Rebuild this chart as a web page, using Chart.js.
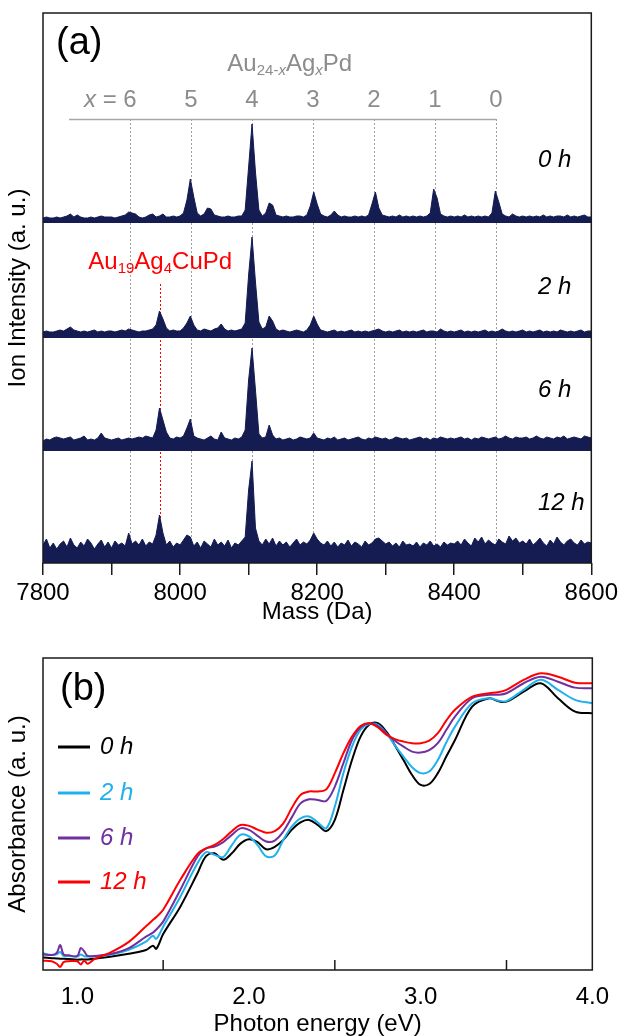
<!DOCTYPE html>
<html>
<head>
<meta charset="utf-8">
<script src="https://cdn.jsdelivr.net/npm/chart.js@4.4.0/dist/chart.umd.min.js"></script>
<style>
  body { margin: 0; background: #fff; }
  #wrap { position: relative; width: 622px; height: 1036px; }
  canvas { position: absolute; left: 0; }
  #massChart { top: 0; }
  #absChart { top: 640px; }
</style>
</head>
<body>
<div id="wrap">
  <canvas id="massChart" width="622" height="630"></canvas>
  <canvas id="absChart" width="622" height="396"></canvas>
</div>
<script>
// ===== (a) mass spectra, 5 Da steps from 7800 to 8600 =====
const massStart = 7800;
const massStep = 5;

const int0h = [
  4,5,4,4,5,4,5,6,8,5,7,5,4,4,5,4,5,6,5,5,
  5,4,5,6,7,10,9,8,5,4,5,7,8,5,6,8,5,5,6,5,
  6,9,22,43,25,9,6,8,14,13,7,6,5,5,6,5,5,6,6,12,
  55,98,50,12,6,9,19,17,7,6,5,6,5,5,6,6,5,7,16,30,
  18,8,6,5,7,11,7,5,6,5,5,6,5,6,5,7,18,30,14,7,
  6,5,6,5,7,5,6,5,6,5,6,5,6,9,33,24,8,6,5,6,
  5,6,5,7,5,6,5,6,5,6,5,9,31,20,8,6,5,8,6,5,
  6,5,6,5,6,5,7,5,6,5,6,6,5,7,5,6,5,6,7,5,
  5
];
const int2h = [
  5,6,5,5,6,7,6,8,10,7,6,5,6,5,6,7,5,6,5,6,
  6,5,6,7,6,8,7,6,5,6,6,7,8,12,26,18,9,6,7,6,
  6,9,14,21,12,7,6,8,7,6,8,9,13,8,6,7,6,7,8,14,
  62,100,55,15,8,10,21,16,8,6,7,6,5,6,7,6,5,7,12,21,
  13,7,6,5,6,7,5,6,5,6,7,5,6,5,6,5,6,7,8,6,
  5,6,5,6,7,5,6,5,6,5,6,7,5,6,6,5,8,6,5,6,
  5,6,7,5,6,5,6,5,6,7,5,6,5,6,8,6,5,6,5,6,
  7,5,6,5,6,7,5,6,5,6,5,7,6,5,6,5,6,7,5,6,
  6
];
const int6h = [
  9,11,10,12,13,12,11,12,13,10,11,12,14,10,11,10,12,17,12,11,
  10,11,12,10,11,12,11,12,13,12,14,13,12,20,42,30,18,12,11,13,
  12,14,22,31,14,12,11,10,12,14,11,10,18,12,11,10,12,11,13,20,
  70,102,60,16,12,13,25,15,11,12,10,11,12,10,11,13,12,11,12,17,
  12,11,10,12,11,13,10,11,12,10,11,12,13,11,10,12,11,13,12,11,
  12,10,11,13,12,11,12,10,11,12,13,11,12,10,12,11,13,12,11,12,
  11,12,13,11,12,10,12,11,13,12,11,12,13,11,12,14,12,11,13,12,
  12,13,11,12,14,12,11,13,12,11,13,12,14,11,12,13,12,11,14,13,
  12
];
const int12h = [
  18,24,15,20,14,19,22,16,25,18,15,21,17,24,20,14,19,23,16,21,
  15,22,18,20,17,30,19,22,18,24,17,21,19,28,48,30,18,22,16,20,
  18,23,28,26,17,21,15,22,19,16,24,18,21,17,23,15,20,18,22,26,
  73,102,35,22,18,24,19,25,17,22,18,21,16,20,24,18,21,19,23,30,
  24,20,18,22,17,21,16,20,18,23,17,21,19,16,22,18,20,24,25,22,
  19,21,17,20,16,22,18,19,17,21,16,20,18,22,17,19,16,21,18,20,
  19,22,18,24,20,17,25,21,26,19,23,20,18,24,21,19,27,22,25,20,
  22,19,24,18,21,25,20,17,23,19,26,21,18,22,24,20,18,23,19,21,
  20
];
const timeLabels = ['0 h', '2 h', '6 h', '12 h'];
const agMasses = [7927, 8016, 8105, 8194, 8283, 8372, 8461];
const agLabels = ['6', '5', '4', '3', '2', '1', '0'];
const cuMass = 7971;

// ===== (b) absorption spectra =====
const energy = [0.8,0.85,0.88,0.9,0.92,0.95, 1.0,1.02,1.04,1.06,1.1, 1.2,1.3,1.4,1.44,1.46,1.5,
  1.6,1.7,1.75,1.8,1.85,1.9,1.95, 2.0,2.05,2.1,2.15,2.2,2.25, 2.3,2.35,2.4,2.45,2.5,2.55,
  2.6,2.65,2.7,2.75,2.8,2.85, 2.9,2.95,3.0,3.05,3.1,3.15, 3.2,3.3,3.4,3.45,3.5, 3.6,3.7,3.8,3.9,4.0];
const abs0h = [0.040,0.038,0.037,0.036,0.036,0.035, 0.033,0.034,0.034,0.034,0.036, 0.043,0.052,0.064,0.078,0.068,0.115,
  0.203,0.310,0.365,0.374,0.353,0.374,0.405, 0.419,0.410,0.387,0.395,0.417,0.450, 0.473,0.481,0.465,0.445,0.481,0.577,
  0.673,0.748,0.786,0.791,0.764,0.720, 0.673,0.625,0.593,0.596,0.631,0.685, 0.737,0.844,0.871,0.862,0.860, 0.892,0.919,0.871,0.828,0.823];
const abs2h = [0.054,0.048,0.050,0.058,0.045,0.045, 0.043,0.050,0.044,0.043,0.044, 0.050,0.065,0.091,0.110,0.100,0.139,
  0.235,0.342,0.378,0.369,0.362,0.400,0.433, 0.428,0.400,0.364,0.367,0.417,0.460, 0.486,0.492,0.473,0.454,0.524,0.631,
  0.716,0.770,0.788,0.786,0.759,0.720, 0.684,0.650,0.631,0.636,0.673,0.730, 0.780,0.855,0.871,0.864,0.862, 0.898,0.930,0.898,0.866,0.855];
const abs6h = [0.050,0.048,0.055,0.080,0.050,0.047, 0.045,0.070,0.060,0.045,0.045, 0.052,0.070,0.107,0.120,0.130,0.155,
  0.257,0.364,0.390,0.396,0.410,0.433,0.454, 0.449,0.430,0.412,0.415,0.444,0.490, 0.534,0.547,0.545,0.542,0.588,0.663,
  0.737,0.778,0.791,0.782,0.759,0.735, 0.716,0.700,0.697,0.705,0.727,0.770, 0.812,0.871,0.882,0.882,0.887, 0.919,0.940,0.924,0.905,0.903];
const abs12h = [0.030,0.028,0.020,0.010,0.025,0.028, 0.028,0.018,0.030,0.020,0.035, 0.058,0.090,0.140,0.160,0.170,0.193,
  0.289,0.372,0.390,0.401,0.420,0.445,0.465, 0.462,0.450,0.440,0.445,0.470,0.520, 0.561,0.572,0.572,0.579,0.631,0.695,
  0.748,0.782,0.791,0.778,0.754,0.740, 0.732,0.727,0.727,0.735,0.759,0.800, 0.834,0.876,0.887,0.890,0.898, 0.930,0.951,0.940,0.921,0.919];
const absColors = ['#000000', '#1fb1ec', '#7030a0', '#ff0000'];

// ===== shared bits =====
const FONT = '"Liberation Sans", Arial, sans-serif';
const NAVY = '#141c52';
const GRAY = '#8c8c8c';
const panelBase = [341, 226, 113, 0];   // stacked baselines (y units = px of panel a)

Chart.defaults.font.family = FONT;
Chart.defaults.color = '#000';

function fontFor(style, size) {
  const it = style.includes('it') ? 'italic ' : '';
  const sz = style.includes('sub') ? Math.round(size * 0.62) : size;
  return it + sz + 'px ' + FONT;
}

// draws text with subscripts / italics, parts = [[text, style], ...]
function richText(ctx, parts, x, y, size, color, align) {
  const widths = parts.map(([t, s]) => { ctx.font = fontFor(s, size); return ctx.measureText(t).width; });
  const total = widths.reduce((a, b) => a + b, 0);
  let cx = align === 'center' ? x - total / 2 : align === 'right' ? x - total : x;
  ctx.fillStyle = color;
  ctx.textAlign = 'left';
  ctx.textBaseline = 'middle';
  parts.forEach(([t, s], i) => {
    ctx.font = fontFor(s, size);
    ctx.fillText(t, cx, s.includes('sub') ? y + size * 0.3 : y);
    cx += widths[i];
  });
}

const massData = [int0h, int2h, int6h, int12h].map((vals, k) => ({
  data: vals.map((v, i) => ({ x: massStart + i * massStep, y: panelBase[k] + v })),
  borderColor: NAVY,
  backgroundColor: NAVY,
  borderWidth: 1,
  pointRadius: 0,
  tension: 0,
  fill: { value: panelBase[k] }
}));

const massDecor = {
  id: 'massDecor',
  beforeDatasetsDraw(chart) {
    const { ctx, chartArea: a, scales: { x, y } } = chart;
    ctx.save();
    ctx.lineWidth = 1;
    ctx.setLineDash([2, 2]);
    ctx.strokeStyle = '#a0a0a0';
    agMasses.forEach(m => {
      const px = Math.round(x.getPixelForValue(m)) + 0.5;
      ctx.beginPath();
      ctx.moveTo(px, y.getPixelForValue(444));
      ctx.lineTo(px, a.bottom);
      ctx.stroke();
    });
    ctx.strokeStyle = '#ff0000';
    const cx = Math.round(x.getPixelForValue(cuMass)) + 0.5;
    ctx.beginPath();
    ctx.moveTo(cx, y.getPixelForValue(279));
    ctx.lineTo(cx, a.bottom);
    ctx.stroke();
    ctx.restore();
  },
  afterDatasetsDraw(chart) {
    const { ctx, chartArea: a, scales: { x, y } } = chart;
    ctx.save();
    // header line for Au24-xAgxPd series
    ctx.strokeStyle = '#a6a6a6';
    ctx.lineWidth = 1.5;
    const hy = Math.round(y.getPixelForValue(444)) + 0.5;
    ctx.beginPath();
    ctx.moveTo(x.getPixelForValue(7838), hy);
    ctx.lineTo(x.getPixelForValue(agMasses[6]), hy);
    ctx.stroke();

    // panel separators
    ctx.strokeStyle = NAVY;
    ctx.lineWidth = 2;
    [113, 226, 341].forEach(v => {
      const py = y.getPixelForValue(v);
      ctx.beginPath();
      ctx.moveTo(a.left, py);
      ctx.lineTo(a.right, py);
      ctx.stroke();
    });
    ctx.strokeStyle = '#1a1a1a';
    ctx.lineWidth = 1.5;
    ctx.strokeRect(a.left, a.top, a.right - a.left, a.bottom - a.top);

    // labels
    ctx.fillStyle = '#000';
    ctx.font = '38px ' + FONT;
    ctx.textAlign = 'left';
    ctx.textBaseline = 'middle';
    ctx.fillText('(a)', 56, 44);

    richText(ctx, [['Au', ''], ['24-', 'sub'], ['x', 'subit'], ['Ag', ''], ['x', 'subit'], ['Pd', '']],
      x.getPixelForValue(8160), 64, 24, GRAY, 'center');

    ctx.font = '24px ' + FONT;
    const w6 = ctx.measureText('6').width;
    agLabels.forEach((t, i) => {
      richText(ctx, [[t, '']], x.getPixelForValue(agMasses[i]), 100, 24, GRAY, 'center');
    });
    richText(ctx, [['x', 'it'], [' = ', '']], x.getPixelForValue(agMasses[0]) - w6 / 2, 100, 24, GRAY, 'right');

    richText(ctx, [['Au', ''], ['19', 'sub'], ['Ag', ''], ['4', 'sub'], ['CuPd', '']],
      x.getPixelForValue(cuMass), 262, 24, '#ff0000', 'center');

    const labelY = [160, 287, 390, 503];
    timeLabels.forEach((t, i) => richText(ctx, [[t, 'it']], 538, labelY[i], 24, '#000', 'left'));
    ctx.restore();
  }
};

new Chart(document.getElementById('massChart'), {
  type: 'line',
  data: { datasets: massData },
  options: {
    responsive: false,
    animation: false,
    devicePixelRatio: 1,
    layout: { padding: { top: 13, right: 28, left: 0, bottom: 0 } },
    plugins: { legend: { display: false }, tooltip: { enabled: false } },
    scales: {
      x: {
        type: 'linear',
        min: 7800,
        max: 8600,
        ticks: {
          stepSize: 100,
          autoSkip: false,
          maxRotation: 0,
          padding: 4,
          font: { size: 24 },
          color: '#000',
          callback: v => (v % 200 === 0 ? v : '')
        },
        grid: { drawOnChartArea: false, tickLength: 12, color: '#1a1a1a', lineWidth: 1.5 },
        border: { display: false },
        title: { display: true, text: 'Mass (Da)', font: { size: 24, lineHeight: 1.0 }, color: '#000', padding: { top: 0, bottom: 6 } },
        afterFit: s => { s.height = 67; }
      },
      y: {
        min: 0,
        max: 550,
        ticks: { display: false },
        grid: { display: false },
        border: { display: false },
        title: { display: true, text: 'Ion Intensity (a. u.)', font: { size: 24 }, color: '#000', padding: { top: 4, bottom: 0 } },
        afterFit: s => { s.width = 43; }
      }
    }
  },
  plugins: [massDecor]
});

// ===== (b) =====
const absSets = [abs0h, abs2h, abs6h, abs12h].map((vals, k) => ({
  label: timeLabels[k],
  data: vals.map((v, i) => ({ x: energy[i], y: v })),
  borderColor: absColors[k],
  borderWidth: 2,
  pointRadius: 0,
  tension: 0.35,
  fill: false,
  order: 3 - k
}));

const absDecor = {
  id: 'absDecor',
  afterDatasetsDraw(chart) {
    const { ctx, chartArea: a, scales: { x } } = chart;
    ctx.save();
    ctx.strokeStyle = '#1a1a1a';
    ctx.lineWidth = 1.5;
    ctx.strokeRect(a.left, a.top, a.right - a.left, a.bottom - a.top);
    [1.5, 2.5, 3.5].forEach(v => {
      const px = x.getPixelForValue(v);
      ctx.beginPath();
      ctx.moveTo(px, a.bottom);
      ctx.lineTo(px, a.bottom - 10);
      ctx.stroke();
    });
    ctx.fillStyle = '#000';
    ctx.font = '38px ' + FONT;
    ctx.textAlign = 'left';
    ctx.textBaseline = 'middle';
    ctx.fillText('(b)', 60, 50);

    const legY = [107, 153, 198, 242];
    timeLabels.forEach((t, i) => {
      ctx.strokeStyle = absColors[i];
      ctx.lineWidth = 3;
      ctx.beginPath();
      ctx.moveTo(58, legY[i]);
      ctx.lineTo(90, legY[i]);
      ctx.stroke();
      richText(ctx, [[t, 'it']], 100, legY[i], 24, absColors[i], 'left');
    });
    ctx.restore();
  }
};

new Chart(document.getElementById('absChart'), {
  type: 'line',
  data: { datasets: absSets },
  options: {
    responsive: false,
    animation: false,
    devicePixelRatio: 1,
    layout: { padding: { top: 18, right: 28, left: 0, bottom: 0 } },
    plugins: { legend: { display: false }, tooltip: { enabled: false } },
    scales: {
      x: {
        type: 'linear',
        min: 0.8,
        max: 4.0,
        afterBuildTicks: s => { s.ticks = [1, 2, 3, 4].map(v => ({ value: v })); },
        ticks: { padding: 13, font: { size: 24 }, color: '#000', maxRotation: 0, callback: v => v.toFixed(1) },
        grid: { display: false, drawTicks: false },
        border: { display: false },
        title: { display: true, text: 'Photon energy (eV)', font: { size: 24, lineHeight: 1.0 }, color: '#000', padding: { top: 0, bottom: 0 } },
        afterFit: s => { s.height = 66; }
      },
      y: {
        min: 0,
        max: 1,
        ticks: { display: false },
        grid: { display: false },
        border: { display: false },
        title: { display: true, text: 'Absorbance (a. u.)', font: { size: 24 }, color: '#000', padding: { top: 4, bottom: 0 } },
        afterFit: s => { s.width = 43; }
      }
    }
  },
  plugins: [absDecor]
});
</script>
</body>
</html>
